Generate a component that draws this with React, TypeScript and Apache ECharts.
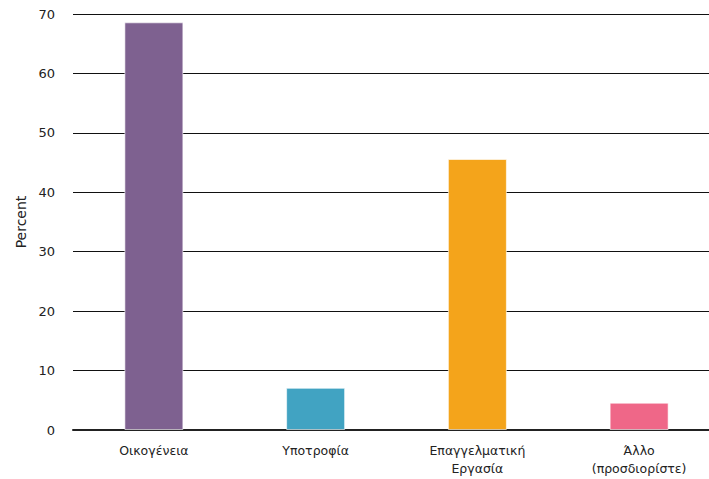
import React, { useEffect, useRef } from "react";
import * as echarts from "echarts";

const categories = ["Οικογένεια", "Υποτροφία", "Επαγγελματική\nΕργασία", "Άλλο\n(προσδιορίστε)"];
const values = [68.6, 7.1, 45.6, 4.6];
const colors = ["#7e6190", "#41a3c2", "#f4a41b", "#ef6788"];
const yTicks = [0, 10, 20, 30, 40, 50, 60, 70];

export default function App() {
  const ref = useRef<HTMLDivElement>(null);
  useEffect(() => {
    const chart = echarts.init(ref.current!, null, { renderer: "svg" });
    chart.setOption({
      animation: false,
      textStyle: { fontFamily: "DejaVu Sans" },
      grid: { left: 73, top: 14, right: 0, bottom: 49 },
      xAxis: {
        type: "category",
        data: categories,
        axisLine: { show: true, lineStyle: { color: "#222", width: 2 } },
        axisTick: { show: false },
        axisLabel: { color: "#222", fontSize: 12.5, margin: 11, lineHeight: 18, fontFamily: "DejaVu Sans" },
      },
      yAxis: {
        type: "value",
        min: yTicks[0],
        max: yTicks[yTicks.length - 1],
        interval: 10,
        name: "Percent",
        nameLocation: "middle",
        nameGap: 45,
        nameTextStyle: { color: "#222", fontSize: 14, fontFamily: "DejaVu Sans" },
        axisLine: { show: false },
        axisTick: { show: false },
        axisLabel: { color: "#222", fontSize: 13, margin: 18, fontFamily: "DejaVu Sans" },
        splitLine: { lineStyle: { color: "#111", width: 1 } },
      },
      series: [
        {
          type: "bar",
          barWidth: 59,
          data: values.map((v, i) => ({
            value: v,
            itemStyle: { color: colors[i], borderColor: "rgba(255,255,255,0.6)", borderWidth: 1 },
          })),
        },
      ],
    });
    return () => chart.dispose();
  }, []);
  return (
    <div style={{ width: 709, height: 479, position: "absolute", left: 0, top: 0, overflow: "hidden" }}>
      <div ref={ref} style={{ width: 720, height: 479 }} />
    </div>
  );
}
